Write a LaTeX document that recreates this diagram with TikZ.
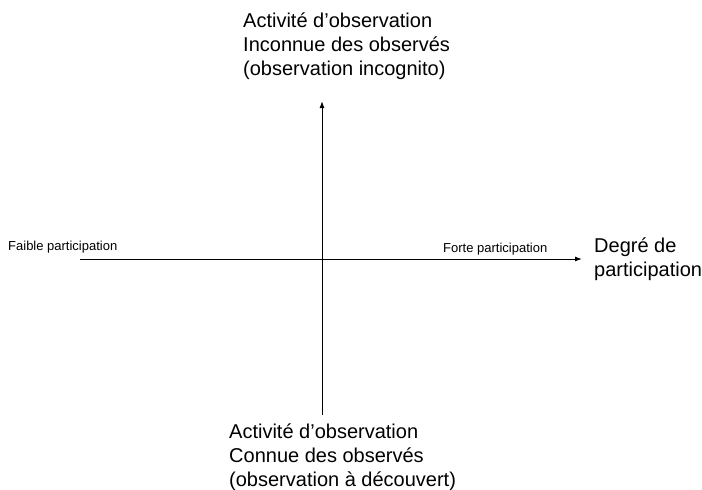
\documentclass[tikz,border=0pt]{standalone}
\usepackage{fontspec}
\setmainfont{Liberation Sans}
\usetikzlibrary{arrows.meta}
\tikzset{
  big/.style={font=\fontsize{20}{24}\selectfont, align=left, inner sep=0pt, anchor=north west},
  small/.style={font=\fontsize{13}{15}\selectfont, inner sep=0pt, anchor=base west},
  axis/.style={line width=1pt, -{Latex[length=7pt,width=5pt]}}
}
\begin{document}
\begin{tikzpicture}[x=1pt,y=-1pt]
\useasboundingbox (0,0) rectangle (702,490);
\coordinate (hl) at (80,259);
\coordinate (hr) at (582,259);
\coordinate (vb) at (322,415);
\coordinate (vt) at (322,101);
\draw[axis] (hl) -- (hr);
\draw[axis] (vb) -- (vt);
\node[big] (top) at (243,13) {Activité d’observation\\Inconnue des observés\\(observation incognito)};
\node[big] (bot) at (229,424) {Activité d’observation\\Connue des observés\\(observation à découvert)};
\node[big] (deg) at (594,238) {Degré de\\participation};
\node[small] (faible) at (8,250) {Faible participation};
\node[small] (forte) at (443,252) {Forte participation};
\end{tikzpicture}
\end{document}
